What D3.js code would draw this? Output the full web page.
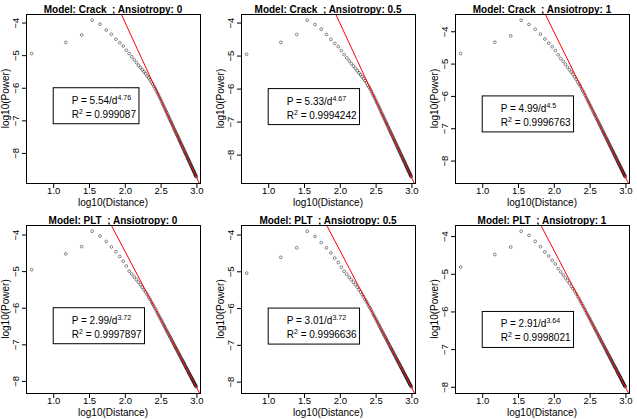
<!DOCTYPE html>
<html>
<head>
<meta charset="utf-8">
<script src="https://cdn.jsdelivr.net/npm/d3@7"></script>
<style>
  body { margin: 0; background: #fff; }
  svg { display: block; font-family: "Liberation Sans", Arial, sans-serif; }
</style>
</head>
<body>
<div id="chart"></div>
<script>
// distances (m) shared by all six runs
const distance = [5, 15, 25, 35, 45, 55, 65, 75, 85, 95,
  105, 115, 125, 135, 145, 155, 165, 175, 185, 195,
  205, 215, 225, 235, 245, 255, 265, 275, 285, 295,
  305, 315, 325, 335, 345, 355, 365, 375, 385, 395,
  405, 415, 425, 435, 445, 455, 465, 475, 485, 495,
  505, 515, 525, 535, 545, 555, 565, 575, 585, 595,
  605, 615, 625, 635, 645, 655, 665, 675, 685, 695,
  705, 715, 725, 735, 745, 755, 765, 775, 785, 795,
  805, 815, 825, 835, 845, 855, 865, 875, 885, 895,
  905, 915, 925, 935, 945, 955, 965, 975, 985, 995];

// log10(Power) per run
const crack0 = [-4.95, -4.61, -4.38, -3.93, -4.05, -4.23, -4.36, -4.51, -4.62, -4.72,
  -4.85, -4.95, -5.05, -5.14, -5.23, -5.31, -5.38, -5.45, -5.51, -5.57,
  -5.64, -5.70, -5.76, -5.83, -5.89, -5.96, -6.02, -6.09, -6.16, -6.22,
  -6.29, -6.35, -6.42, -6.48, -6.54, -6.60, -6.66, -6.71, -6.76, -6.82,
  -6.87, -6.92, -6.97, -7.02, -7.06, -7.11, -7.15, -7.20, -7.25, -7.29,
  -7.33, -7.37, -7.41, -7.45, -7.48, -7.52, -7.56, -7.60, -7.63, -7.67,
  -7.70, -7.74, -7.77, -7.80, -7.84, -7.86, -7.90, -7.93, -7.96, -7.99,
  -8.02, -8.04, -8.07, -8.10, -8.13, -8.16, -8.19, -8.21, -8.24, -8.26,
  -8.29, -8.32, -8.34, -8.37, -8.39, -8.42, -8.44, -8.46, -8.49, -8.51,
  -8.54, -8.55, -8.58, -8.60, -8.62, -8.65, -8.67, -8.69, -8.71, -8.73];

const crack05 = [-4.96, -4.60, -4.36, -3.93, -4.06, -4.20, -4.36, -4.51, -4.63, -4.73,
  -4.85, -4.97, -5.07, -5.16, -5.24, -5.32, -5.39, -5.46, -5.52, -5.58,
  -5.64, -5.70, -5.76, -5.82, -5.89, -5.95, -6.01, -6.08, -6.15, -6.21,
  -6.27, -6.34, -6.40, -6.46, -6.52, -6.58, -6.63, -6.69, -6.74, -6.80,
  -6.84, -6.90, -6.94, -6.99, -7.04, -7.08, -7.12, -7.17, -7.21, -7.26,
  -7.29, -7.34, -7.37, -7.41, -7.45, -7.48, -7.52, -7.56, -7.59, -7.63,
  -7.66, -7.69, -7.73, -7.76, -7.79, -7.82, -7.85, -7.88, -7.91, -7.94,
  -7.97, -8.00, -8.03, -8.05, -8.08, -8.11, -8.14, -8.16, -8.19, -8.21,
  -8.24, -8.26, -8.29, -8.32, -8.34, -8.36, -8.39, -8.41, -8.43, -8.46,
  -8.48, -8.50, -8.52, -8.55, -8.56, -8.59, -8.61, -8.63, -8.65, -8.67];

const crack1 = [-4.69, -4.34, -4.14, -3.66, -3.79, -3.94, -4.09, -4.24, -4.37, -4.48,
  -4.60, -4.73, -4.84, -4.93, -5.02, -5.11, -5.19, -5.26, -5.33, -5.41,
  -5.48, -5.56, -5.63, -5.70, -5.78, -5.85, -5.92, -5.99, -6.06, -6.13,
  -6.19, -6.25, -6.31, -6.37, -6.43, -6.49, -6.54, -6.59, -6.64, -6.70,
  -6.74, -6.79, -6.84, -6.88, -6.93, -6.97, -7.01, -7.06, -7.10, -7.14,
  -7.17, -7.21, -7.25, -7.29, -7.32, -7.36, -7.39, -7.43, -7.46, -7.50,
  -7.53, -7.56, -7.59, -7.62, -7.66, -7.68, -7.71, -7.74, -7.77, -7.80,
  -7.83, -7.85, -7.88, -7.91, -7.93, -7.96, -7.99, -8.01, -8.04, -8.06,
  -8.09, -8.11, -8.13, -8.16, -8.18, -8.20, -8.23, -8.25, -8.27, -8.29,
  -8.32, -8.33, -8.36, -8.38, -8.40, -8.42, -8.44, -8.46, -8.48, -8.50];

const plt0 = [-4.96, -4.53, -4.33, -3.91, -4.04, -4.19, -4.34, -4.47, -4.60, -4.73,
  -4.86, -5.00, -5.08, -5.16, -5.23, -5.30, -5.37, -5.44, -5.51, -5.57,
  -5.64, -5.71, -5.77, -5.84, -5.90, -5.96, -6.02, -6.08, -6.14, -6.20,
  -6.25, -6.30, -6.35, -6.40, -6.45, -6.50, -6.54, -6.59, -6.63, -6.67,
  -6.71, -6.75, -6.79, -6.82, -6.86, -6.90, -6.93, -6.97, -7.00, -7.04,
  -7.07, -7.10, -7.13, -7.16, -7.19, -7.22, -7.25, -7.28, -7.30, -7.33,
  -7.36, -7.39, -7.41, -7.44, -7.46, -7.49, -7.51, -7.53, -7.56, -7.58,
  -7.61, -7.63, -7.65, -7.67, -7.69, -7.72, -7.74, -7.76, -7.78, -7.80,
  -7.82, -7.84, -7.86, -7.88, -7.90, -7.92, -7.94, -7.95, -7.97, -7.99,
  -8.01, -8.03, -8.04, -8.06, -8.08, -8.10, -8.11, -8.13, -8.14, -8.16];

const plt05 = [-5.05, -4.62, -4.36, -3.91, -4.05, -4.22, -4.36, -4.50, -4.64, -4.76,
  -4.89, -5.00, -5.08, -5.16, -5.23, -5.30, -5.36, -5.43, -5.50, -5.56,
  -5.63, -5.69, -5.76, -5.82, -5.88, -5.95, -6.00, -6.06, -6.12, -6.18,
  -6.23, -6.28, -6.33, -6.38, -6.43, -6.48, -6.52, -6.57, -6.61, -6.65,
  -6.69, -6.73, -6.77, -6.80, -6.84, -6.88, -6.91, -6.95, -6.98, -7.02,
  -7.05, -7.08, -7.11, -7.14, -7.17, -7.20, -7.23, -7.26, -7.28, -7.31,
  -7.34, -7.37, -7.39, -7.42, -7.44, -7.47, -7.49, -7.51, -7.54, -7.56,
  -7.59, -7.61, -7.63, -7.65, -7.67, -7.70, -7.72, -7.74, -7.76, -7.78,
  -7.80, -7.82, -7.84, -7.86, -7.88, -7.90, -7.92, -7.93, -7.95, -7.97,
  -7.99, -8.01, -8.02, -8.04, -8.06, -8.08, -8.09, -8.11, -8.12, -8.14];

const plt1 = [-4.82, -4.49, -4.29, -3.87, -3.98, -4.14, -4.28, -4.42, -4.53, -4.64,
  -4.74, -4.86, -4.95, -5.03, -5.11, -5.18, -5.25, -5.33, -5.39, -5.46,
  -5.53, -5.60, -5.66, -5.73, -5.79, -5.85, -5.91, -5.97, -6.03, -6.08,
  -6.13, -6.18, -6.23, -6.28, -6.33, -6.37, -6.42, -6.46, -6.50, -6.54,
  -6.58, -6.62, -6.66, -6.69, -6.73, -6.77, -6.80, -6.83, -6.87, -6.90,
  -6.93, -6.96, -6.99, -7.02, -7.05, -7.08, -7.11, -7.14, -7.16, -7.19,
  -7.22, -7.24, -7.27, -7.29, -7.32, -7.34, -7.37, -7.39, -7.41, -7.44,
  -7.46, -7.48, -7.50, -7.52, -7.54, -7.57, -7.59, -7.61, -7.63, -7.65,
  -7.67, -7.69, -7.70, -7.73, -7.74, -7.76, -7.78, -7.80, -7.82, -7.84,
  -7.85, -7.87, -7.89, -7.90, -7.92, -7.94, -7.96, -7.97, -7.98, -8.00];

const models = ["Crack", "Crack", "Crack", "PLT", "PLT", "PLT"];
const anisotropy = ["0", "0.5", "1", "0", "0.5", "1"];
const coefA = ["5.54", "5.33", "4.99", "2.99", "3.01", "2.91"];
const coefB = ["4.76", "4.67", "4.5", "3.72", "3.72", "3.64"];
const rSquared = ["0.999087", "0.9994242", "0.9996763", "0.9997897", "0.9996636", "0.9998021"];

const xTicks = [1.0, 1.5, 2.0, 2.5, 3.0];
const yTicks = [-4, -5, -6, -7, -8];
const xLimits = [0.62, 3.05];

let series = [crack0, crack05, crack1, plt0, plt05, plt1];

let width = 637, height = 419;
let colLeft = [26, 241, 455];
let rowTop = [14, 225];
let boxW = 174;
let boxH = [169, 168];

const svg = d3.select("#chart").append("svg")
  .attr("width", width)
  .attr("height", height);

for (let i = 0; i < 6; i++) {
  drawPanel(svg, i);
}

function drawPanel(svg, i)
{
  let left = colLeft[i % 3];
  let top = rowTop[Math.floor(i / 3)];
  let h = boxH[Math.floor(i / 3)];
  let values = series[i];

  let ext = d3.extent(values);
  let pad = (ext[1] - ext[0]) * 0.04;

  let x = d3.scaleLinear().domain(xLimits).range([left, left + boxW]);
  let y = d3.scaleLinear().domain([ext[0] - pad, ext[1] + pad]).range([top + h, top]);

  let g = svg.append("g");

  g.append("clipPath").attr("id", "clip" + i)
    .append("rect")
    .attr("x", left).attr("y", top)
    .attr("width", boxW).attr("height", h);

  let pts = distance.map((d, k) => ({ lx: Math.log10(d), lp: values[k] }));

  g.append("g")
    .selectAll("circle")
    .data(pts)
    .join("circle")
    .attr("cx", d => x(d.lx))
    .attr("cy", d => y(d.lp))
    .attr("r", 1.4)
    .attr("fill", "none")
    .attr("stroke", "#000")
    .attr("stroke-width", 0.45);

  // fitted line: log10(P) = a - b * log10(d)
  let a = +coefA[i], b = +coefB[i];
  g.append("line")
    .attr("clip-path", `url(#clip${i})`)
    .attr("x1", x(xLimits[0])).attr("y1", y(a - b * xLimits[0]))
    .attr("x2", x(xLimits[1])).attr("y2", y(a - b * xLimits[1]))
    .attr("stroke", "red")
    .attr("stroke-width", 1);

  g.append("rect")
    .attr("x", left + 0.5).attr("y", top + 0.5)
    .attr("width", boxW).attr("height", h)
    .attr("fill", "none")
    .attr("stroke", "#000")
    .attr("stroke-width", 1);

  let xAxis = g.append("g")
    .attr("transform", `translate(0,${top + h + 0.5})`)
    .call(d3.axisBottom(x).tickValues(xTicks).tickFormat(d3.format(".1f")).tickSizeInner(4.5).tickSizeOuter(0));
  xAxis.select(".domain").remove();
  xAxis.selectAll("text")
    .attr("y", 10.5).attr("dy", null)
    .attr("font-size", 9.5).attr("fill", "#000").attr("font-family", null);

  let yAxis = g.append("g")
    .attr("transform", `translate(${left + 0.5},0)`)
    .call(d3.axisLeft(y).tickValues(yTicks).tickFormat(d3.format("d")).tickSizeInner(4.5).tickSizeOuter(0));
  yAxis.select(".domain").remove();
  yAxis.selectAll("text")
    .attr("x", null).attr("dy", null)
    .attr("text-anchor", "middle")
    .attr("transform", "translate(-7.5,0) rotate(-90)")
    .attr("font-size", 9.5).attr("fill", "#000").attr("font-family", null);

  g.append("text")
    .attr("x", left + boxW / 2)
    .attr("y", top + h + 22.5)
    .attr("text-anchor", "middle")
    .attr("font-size", 10)
    .text("log10(Distance)");

  g.append("text")
    .attr("transform", `translate(${left - 17.5},${top + h / 2}) rotate(-90)`)
    .attr("text-anchor", "middle")
    .attr("font-size", 10)
    .text("log10(Power)");

  g.append("text")
    .attr("x", left + boxW / 2)
    .attr("y", top - 1.5)
    .attr("text-anchor", "middle")
    .attr("font-size", 10)
    .attr("font-weight", "bold")
    .text(`Model: ${models[i]}\u00a0 ; Ansiotropy: ${anisotropy[i]}`);

  // legend box anchored at (1, -6)
  let lg = g.append("g")
    .attr("transform", `translate(${x(1.0)},${y(-6)})`);
  let box = lg.append("rect")
    .attr("height", 36)
    .attr("fill", "#fff")
    .attr("stroke", "#000")
    .attr("stroke-width", 1);

  let t1 = lg.append("text").attr("x", 18.5).attr("y", 16).attr("font-size", 10);
  t1.append("tspan").text(`P = ${coefA[i]}/d`);
  t1.append("tspan").attr("font-size", 7).attr("dy", -4).text(coefB[i]);

  let t2 = lg.append("text").attr("x", 18.5).attr("y", 30).attr("font-size", 10);
  t2.append("tspan").text("R");
  t2.append("tspan").attr("font-size", 7).attr("dy", -4).text("2");
  t2.append("tspan").attr("dy", 4).text("\u00a0= " + rSquared[i]);

  let tw = Math.max(t1.node().getComputedTextLength(), t2.node().getComputedTextLength());
  box.attr("width", 18.5 + tw + 3);
}
</script>
</body>
</html>
